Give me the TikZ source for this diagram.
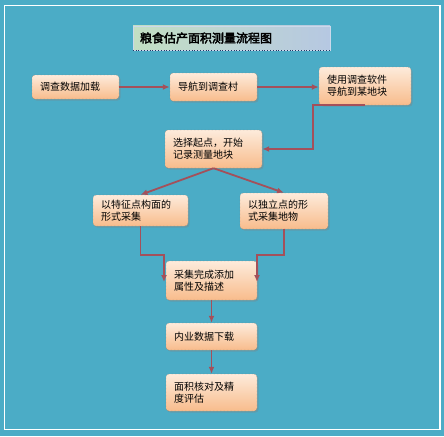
\documentclass[tikz,border=0pt]{standalone}
\usepackage{fontspec}
\setmainfont{Noto Sans CJK SC}[AutoFakeBold=3]
\usetikzlibrary{shadows,arrows.meta}
\definecolor{sea}{HTML}{4BACC6}
\definecolor{peachtop}{HTML}{FDEBDB}
\definecolor{peachbot}{HTML}{F8BC8C}
\definecolor{boxline}{HTML}{8C6E5A}
\definecolor{linkred}{HTML}{A4505A}
\definecolor{titlegreen}{HTML}{C3DFC3}
\definecolor{titleblue}{HTML}{B6C8E2}
\definecolor{titleline}{HTML}{1F3864}
\begin{document}
\begin{tikzpicture}[x=1pt, y=-1pt, flow node/.style={rectangle,rounded corners=3pt,draw=boxline,densely dotted,top color=peachtop,bottom color=peachbot,drop shadow={shadow xshift=1.5pt,shadow yshift=-1.5pt,opacity=.35},align=left,inner xsep=8pt,inner ysep=2pt,font=\fontsize{10}{12}\selectfont},title node/.style={rectangle,draw=titleblue!70!white,left color=titlegreen,right color=titleblue,align=left,inner xsep=7pt,font=\fontsize{12}{14}\selectfont\bfseries},link/.style={-{Latex[length=7pt,width=6pt]},draw=linkred,line width=1.8pt}]%
\fill[sea] (0,0) rectangle (444,436);
\draw[white,line width=1.2pt] (4.5,5.5) rectangle (440,429.5);
\useasboundingbox (0,0) rectangle (444,436);
\begin{scope}
\node[title node,text width=183pt,minimum height=24pt] (t) at (231.5,38) {粮食估产面积测量流程图};
\draw[titleline,dotted,thick] (t.south west) -- (t.south east);
\node[flow node,text width=71pt,minimum height=24pt] (b1) at (75.5,87) {调查数据加载};
\node[flow node,text width=71pt,minimum height=28pt] (b2) at (213.5,87) {导航到调查村};
\node[flow node,text width=76pt,minimum height=38pt] (b3) at (365,86) {使用调查软件\\导航到某地块};
\node[flow node,text width=81pt,minimum height=38pt] (b4) at (213.5,149) {选择起点，开始\\记录测量地块};
\node[flow node,text width=79pt,minimum height=31pt] (b5) at (140.5,210.5) {以特征点构面的\\形式采集};
\node[flow node,text width=72pt,minimum height=36pt] (b6) at (284,211) {以独立点的形\\式采集地物};
\node[flow node,text width=75pt,minimum height=39pt] (b7) at (211.5,280.5) {采集完成添加\\属性及描述};
\node[flow node,text width=75pt,minimum height=27pt] (b8) at (211.5,336.5) {内业数据下载};
\node[flow node,text width=75pt,minimum height=37pt] (b9) at (211.5,392.5) {面积核对及精\\度评估};
\end{scope}
\begin{scope}
\coordinate (c1) at (313,149);
\coordinate (c2) at (164,255);
\coordinate (c3) at (164,282);
\coordinate (c4) at (257,255);
\coordinate (c5) at (257,282);
\draw[link] (b1.east) -- (b1.east -| b2.west);
\draw[link] (b2.east) -- (b2.east -| b3.west);
\draw[link] (b3.south) -| (c1) -- (b4.east);
\draw[link] (b4.south) -- (b5.north);
\draw[link] (b4.south) -- (b6.north);
\draw[link] (b5.south) |- (c2) -- (c3);
\draw[link] (b6.south) |- (c4) -- (c5);
\draw[link] (b7.south) -- (b8.north);
\draw[link] (b8.south) -- (b9.north);
\end{scope}
\end{tikzpicture}
\end{document}
